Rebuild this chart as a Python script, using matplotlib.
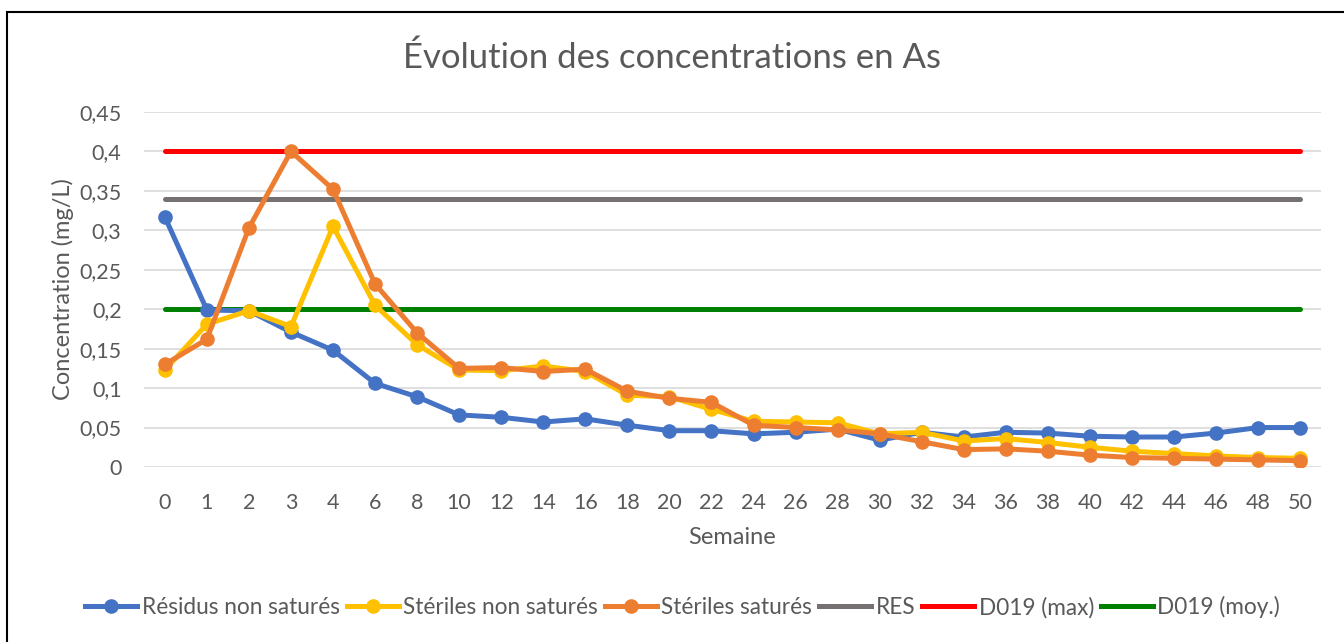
import matplotlib
matplotlib.use('Agg')
import matplotlib.pyplot as plt
from matplotlib.lines import Line2D
from matplotlib.patches import Rectangle

plt.rcParams['font.family'] = ['Lato', 'DejaVu Sans']

semaines = ['0', '1', '2', '3', '4', '6', '8', '10', '12', '14', '16', '18', '20', '22',
            '24', '26', '28', '30', '32', '34', '36', '38', '40', '42', '44', '46', '48', '50']

residus_non_sat = [0.317, 0.199, 0.198, 0.171, 0.148, 0.106, 0.089, 0.066, 0.063, 0.057,
                   0.061, 0.053, 0.046, 0.046, 0.042, 0.044, 0.048, 0.034, 0.044, 0.038,
                   0.044, 0.043, 0.039, 0.038, 0.038, 0.043, 0.050, 0.050]
steriles_non_sat = [0.123, 0.181, 0.198, 0.178, 0.305, 0.205, 0.155, 0.123, 0.122, 0.128,
                    0.121, 0.091, 0.089, 0.073, 0.058, 0.057, 0.056, 0.042, 0.044, 0.033,
                    0.036, 0.031, 0.025, 0.020, 0.017, 0.014, 0.012, 0.011]
steriles_sat = [0.130, 0.162, 0.303, 0.400, 0.352, 0.232, 0.170, 0.125, 0.126, 0.121,
                0.124, 0.096, 0.087, 0.082, 0.053, 0.050, 0.047, 0.042, 0.032, 0.022,
                0.023, 0.020, 0.015, 0.012, 0.011, 0.010, 0.009, 0.008]

res_value = 0.34
d019_max = 0.40
d019_moy = 0.20

yticks = [0, 0.05, 0.1, 0.15, 0.2, 0.25, 0.3, 0.35, 0.4, 0.45]
ytick_labels = ['0', '0,05', '0,1', '0,15', '0,2', '0,25', '0,3', '0,35', '0,4', '0,45']

text_color = '#595959'
n = len(semaines)
x = list(range(n))
lw = 3.6
ms = 9.5

fig = plt.figure(figsize=(13.44, 6.42), dpi=100)
ax = fig.add_axes([0.107, 0.2726, 0.876, 0.553])

# horizontal reference lines
ax.plot(x, [res_value] * n, color='#767171', lw=lw, solid_capstyle='round', zorder=2)
ax.plot(x, [d019_max] * n, color='#ff0000', lw=lw, solid_capstyle='round', zorder=2)
ax.plot(x, [d019_moy] * n, color='#008000', lw=lw, solid_capstyle='round', zorder=2)

ax.plot(x, residus_non_sat, color='#4472c4', lw=lw, marker='o', ms=ms, zorder=3)
ax.plot(x, steriles_non_sat, color='#ffc000', lw=lw, marker='o', ms=ms, zorder=4)
ax.plot(x, steriles_sat, color='#ed7d31', lw=lw, marker='o', ms=ms, zorder=5)

ax.set_xlim(-0.5, n - 0.5)
ax.set_ylim(0, 0.45)
ax.set_xticks(x)
ax.set_xticklabels(semaines)
ax.set_yticks(yticks)
ax.set_yticklabels(ytick_labels)
ax.tick_params(axis='both', length=0, labelsize=15.5, colors=text_color)
ax.tick_params(axis='x', pad=19)
ax.tick_params(axis='y', pad=16)
ax.grid(axis='y', color='#d9d9d9', lw=1.2)
ax.set_axisbelow(True)
for s in ax.spines.values():
    s.set_visible(False)

ax.set_xlabel('Semaine', fontsize=17, color=text_color, labelpad=10)
ax.set_ylabel('Concentration (mg/L)', fontsize=17, color=text_color, labelpad=4)
fig.text(0.5, 0.91, 'Évolution des concentrations en As', ha='center', va='center',
         fontsize=25, color=text_color)

handles = [
    Line2D([], [], color='#4472c4', lw=lw, marker='o', ms=ms),
    Line2D([], [], color='#ffc000', lw=lw, marker='o', ms=ms),
    Line2D([], [], color='#ed7d31', lw=lw, marker='o', ms=ms),
    Line2D([], [], color='#767171', lw=lw),
    Line2D([], [], color='#ff0000', lw=lw),
    Line2D([], [], color='#008000', lw=lw),
]
labels = ['Résidus non saturés', 'Stériles non saturés', 'Stériles saturés', 'RES',
          'D019 (max)', 'D019 (moy.)']
leg = fig.legend(handles, labels, loc='center', bbox_to_anchor=(0.508, 0.054), ncol=6,
                 frameon=False, fontsize=16.3, handlelength=2.3, handletextpad=0.2,
                 columnspacing=0.3)
for t in leg.get_texts():
    t.set_color(text_color)

# chart border
fig.patches.append(Rectangle((7 / 1344, -0.05), 1.1, 1 - 12 / 642 + 0.05,
                             transform=fig.transFigure, fill=False, ec='black', lw=1.5))

fig.savefig('out.png', dpi=100)
